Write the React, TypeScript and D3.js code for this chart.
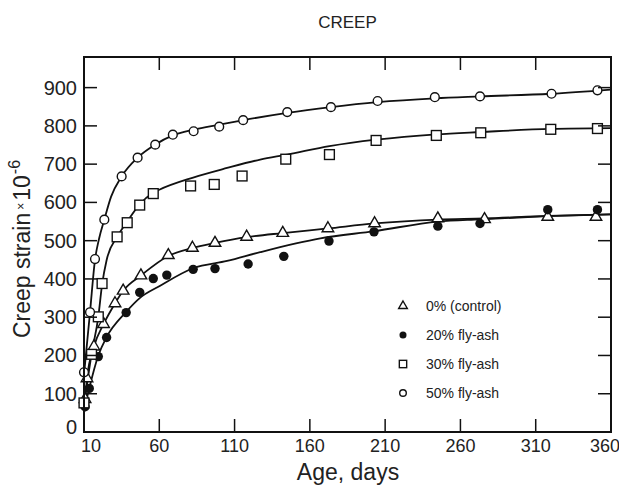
import React from 'react';
import * as d3 from 'd3';

// ---- data ----
const SERIES_NAMES = ['0% (control)', '20% fly-ash', '30% fly-ash', '50% fly-ash'];

const DAYS_CONTROL = [10.7, 12, 16.6, 23, 30.6, 36, 47.8, 66, 82, 97, 118, 142, 172, 203, 245, 276, 318, 350];
const VALUES_CONTROL = [86, 140, 223, 282, 336, 369, 409, 462, 481, 494, 510, 520, 532, 545, 558, 556, 562, 562];

const DAYS_FA20 = [10.7, 13.5, 19.5, 25, 38, 47, 56, 65, 82.5, 97, 119, 142.7, 172.7, 202.6, 245, 273, 318, 351];
const VALUES_FA20 = [66, 114, 197, 247, 312, 365, 401, 410, 425, 427, 439, 459, 499, 523, 538, 545, 581, 581];

const DAYS_FA30 = [10, 15, 19.5, 22, 32, 38.7, 47, 56, 80.8, 96.5, 115, 144, 173, 204, 244, 273.5, 320, 351];
const VALUES_FA30 = [76, 203, 301, 388, 510, 547, 593, 623, 643, 647, 669, 713, 725, 762, 775, 782, 791, 793];

const DAYS_FA50 = [10, 14, 17.3, 23.5, 35, 45.6, 57.3, 69, 82.8, 99.8, 115.7, 145, 174, 205, 243, 273, 320.5, 351];
const VALUES_FA50 = [156, 313, 452, 555, 668, 717, 751, 777, 786, 798, 815, 836, 849, 865, 875, 877, 884, 893];

// fitted curves as drawn in the reference
const FIT_DAYS_CONTROL = [10, 10.7, 12, 16.6, 23, 30.6, 36, 47.8, 66, 82, 97, 118, 142, 172, 203, 245, 276, 318, 360];
const FIT_VALUES_CONTROL = [70, 86, 140, 223, 282, 336, 369, 409, 460, 481, 494, 509, 520, 532, 545, 555, 558, 565, 569];

const FIT_DAYS_FA20 = [10, 10.7, 13.5, 19.5, 25, 38, 47, 60, 82.5, 105, 127, 167, 203, 245, 273, 318, 360];
const FIT_VALUES_FA20 = [50, 66, 114, 200, 248, 314, 350, 381, 428, 447, 470, 506, 525, 550, 556, 564, 569];

const FIT_DAYS_FA30 = [10, 15, 19.5, 22, 25, 32, 38.5, 47, 56, 60, 82.5, 105, 127, 145, 173, 204, 244, 273.5, 320, 360];
const FIT_VALUES_FA30 = [70, 203, 301, 385, 449, 510, 549, 595, 625, 633, 665, 690, 712, 725, 747, 764, 778, 784, 792, 794];

const FIT_DAYS_FA50 = [10, 14, 17.3, 20, 23.5, 28, 35, 45.6, 57.3, 69, 83, 100, 116, 145, 174, 205, 243, 273, 320, 360];
const FIT_VALUES_FA50 = [150, 313, 450, 505, 555, 615, 668, 717, 751, 775, 790, 803, 815, 834, 849, 862, 872, 877, 884, 895];

const X_TICKS = [10, 60, 110, 160, 210, 260, 310, 360];
const Y_TICKS = [0, 100, 200, 300, 400, 500, 600, 700, 800, 900];

const MARKERS = ['triangle', 'dot', 'square', 'circle'];

// ---- layout ----
const W = 619;
const H = 488;
const LEFT = 84;
const RIGHT = 611;
const TOP = 57;
const BOTTOM = 432;
const INK = '#111';
const FONT = 'Liberation Sans, Arial, Helvetica, sans-serif';

function zip(xs: number[], ys: number[]) {
  return xs.map((x, i) => ({ x, y: ys[i] }));
}

function Marker({ kind, cx, cy, s }: { kind: string; cx: number; cy: number; s: number }) {
  if (kind === 'dot') {
    return <circle cx={cx} cy={cy} r={4.7 * s} fill={INK} />;
  }
  if (kind === 'circle') {
    return <circle cx={cx} cy={cy} r={4.4 * s} fill="#fff" stroke={INK} strokeWidth={1.4} />;
  }
  if (kind === 'square') {
    const h = 4.9 * s;
    return <rect x={cx - h} y={cy - h} width={2 * h} height={2 * h} fill="#fff" stroke={INK} strokeWidth={1.4} />;
  }
  const p = d3.symbol(d3.symbolTriangle, 58 * s * s)() as string;
  return <path d={p} transform={`translate(${cx},${cy})`} fill="#fff" stroke={INK} strokeWidth={1.4} />;
}

export default function App() {
  const x = d3.scaleLinear().domain([10, 360]).range([LEFT, RIGHT]);
  const y = d3.scaleLinear().domain([0, 980]).range([BOTTOM, TOP]);

  const line = d3
    .line<{ x: number; y: number }>()
    .x((d) => x(d.x))
    .y((d) => y(d.y))
    .curve(d3.curveMonotoneX);

  const fits = [
    zip(FIT_DAYS_CONTROL, FIT_VALUES_CONTROL),
    zip(FIT_DAYS_FA20, FIT_VALUES_FA20),
    zip(FIT_DAYS_FA30, FIT_VALUES_FA30),
    zip(FIT_DAYS_FA50, FIT_VALUES_FA50),
  ];
  const points = [
    zip(DAYS_CONTROL, VALUES_CONTROL),
    zip(DAYS_FA20, VALUES_FA20),
    zip(DAYS_FA30, VALUES_FA30),
    zip(DAYS_FA50, VALUES_FA50),
  ];

  const tickLen = 13;
  const innerX = X_TICKS.filter((t) => t !== 10 && t !== 360);
  const innerY = Y_TICKS.filter((t) => t !== 0);

  return (
    <svg width={W} height={H} style={{ position: 'absolute', left: 0, top: 0, background: '#fff' }} fontFamily={FONT}>
      <rect width={W} height={H} fill="#fff" />
      <text x={(LEFT + RIGHT) / 2} y={28} textAnchor="middle" fontSize={17} fill="#222">
        CREEP
      </text>

      {/* fitted curves */}
      {fits.map((f, i) => (
        <path key={'f' + i} d={line(f) as string} fill="none" stroke={INK} strokeWidth={1.8} />
      ))}

      {/* data markers */}
      {points.map((pts, i) =>
        pts.map((d, j) => <Marker key={`m${i}-${j}`} kind={MARKERS[i]} cx={x(d.x)} cy={y(d.y)} s={1} />)
      )}

      {/* frame */}
      <rect x={LEFT} y={TOP} width={RIGHT - LEFT} height={BOTTOM - TOP} fill="none" stroke={INK} strokeWidth={2} />

      {/* ticks */}
      {innerX.map((t) => (
        <g key={'xt' + t}>
          <line x1={x(t)} x2={x(t)} y1={BOTTOM} y2={BOTTOM - tickLen} stroke={INK} strokeWidth={1.5} />
          <line x1={x(t)} x2={x(t)} y1={TOP} y2={TOP + tickLen} stroke={INK} strokeWidth={1.5} />
        </g>
      ))}
      {innerY.map((t) => (
        <g key={'yt' + t}>
          <line x1={LEFT} x2={LEFT + tickLen} y1={y(t)} y2={y(t)} stroke={INK} strokeWidth={1.5} />
          <line x1={RIGHT} x2={RIGHT - tickLen} y1={y(t)} y2={y(t)} stroke={INK} strokeWidth={1.5} />
        </g>
      ))}

      {/* tick labels */}
      {X_TICKS.map((t, i) => (
        <text
          key={'xl' + t}
          x={x(t) + (i === 0 ? 7 : i === X_TICKS.length - 1 ? -6 : 0)}
          y={452}
          textAnchor="middle"
          fontSize={18}
          fill="#222"
        >
          {t}
        </text>
      ))}
      {Y_TICKS.map((t) => (
        <text key={'yl' + t} x={77} y={y(t) + 7 - (t === 0 ? 5 : 0)} textAnchor="end" fontSize={20} fill="#222">
          {t}
        </text>
      ))}

      {/* axis titles */}
      <text x={348} y={480} textAnchor="middle" fontSize={23} fill="#222">
        Age, days
      </text>
      <text transform="translate(30,249) rotate(-90)" textAnchor="middle" fontSize={23} fill="#222">
        Creep strain
        <tspan fontSize={12} dx={3} dy={-5}>×</tspan>
        <tspan fontSize={23} dx={2} dy={5}>10</tspan>
        <tspan fontSize={16} dx={1} dy={-10}>-6</tspan>
      </text>

      {/* legend */}
      {SERIES_NAMES.map((name, i) => {
        const ly = 306 + i * 29;
        return (
          <g key={'lg' + i}>
            <Marker kind={MARKERS[i]} cx={403} cy={ly} s={0.75} />
            <text x={426} y={ly + 5} fontSize={14} fill="#222">
              {name}
            </text>
          </g>
        );
      })}
    </svg>
  );
}
